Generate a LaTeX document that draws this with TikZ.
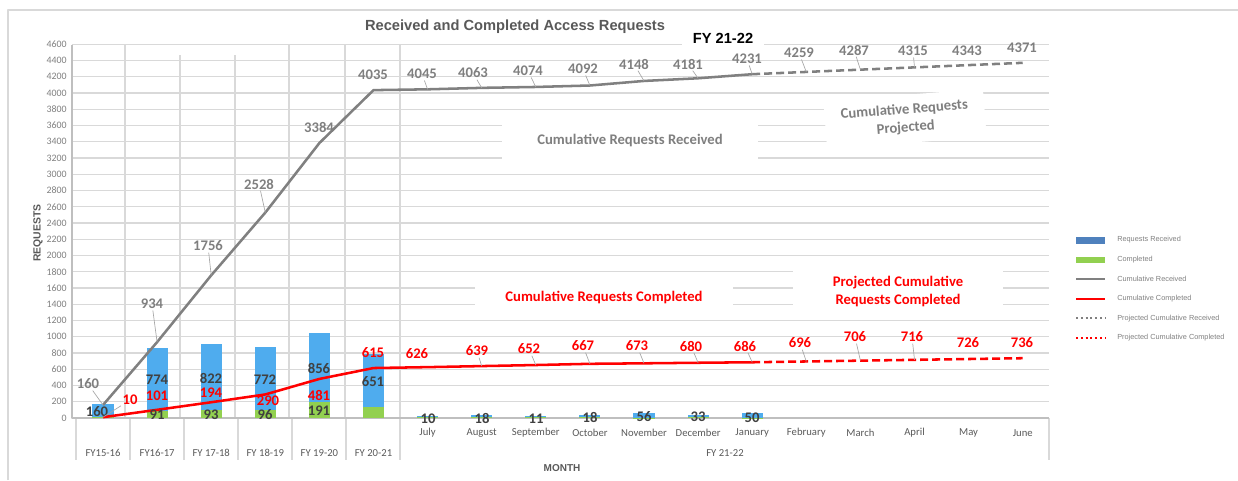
\documentclass[tikz,border=0pt]{standalone}
\usepackage{fontspec}
\setmainfont{Carlito}
\newfontfamily\arialfont{Liberation Sans}
\usepackage{tikz}

\definecolor{barblue}{HTML}{4FACEE}
\definecolor{bargreen}{HTML}{92D050}
\definecolor{legblue}{HTML}{4F81BD}
\definecolor{recvgray}{HTML}{808080}
\definecolor{gridgray}{HTML}{D9D9D9}
\definecolor{axisgray}{HTML}{BFBFBF}
\definecolor{leadgray}{HTML}{A6A6A6}
\definecolor{textgray}{HTML}{595959}
\definecolor{labgray}{HTML}{7F7F7F}
\definecolor{bartext}{HTML}{404040}

\begin{document}
\begin{tikzpicture}[x=0.75pt,y=-0.75pt,line join=round,
        gridline/.style={draw=gridgray,line width=0.8pt},
        ticklabel/.style={font=\fontsize{7.4}{8}\selectfont,text=labgray,anchor=east,inner sep=0pt},
        catlabel/.style={font=\fontsize{8}{9}\selectfont,text=textgray,inner sep=0pt},
        recvlabel/.style={font=\bfseries\fontsize{11}{12}\selectfont,text=labgray,inner sep=1pt},
        donelabel/.style={font=\bfseries\fontsize{11}{12}\selectfont,text=red,inner sep=1pt},
        barlabel/.style={font=\bfseries\fontsize{11}{12}\selectfont,text=bartext,inner sep=0pt},
        leader/.style={draw=leadgray,line width=0.5pt},
        recvline/.style={draw=recvgray,line width=1.9pt},
        doneline/.style={draw=red,line width=1.9pt},
        projected/.style={dash pattern=on 6pt off 3pt},
        note/.style={font=\bfseries\fontsize{11}{13.5}\selectfont,fill=white,align=center,inner sep=0pt},
        legtext/.style={font=\arialfont\fontsize{5.5}{6}\selectfont,text=labgray,anchor=west,inner sep=0pt}]

    \useasboundingbox (0,0) rectangle (1238,480);
    \draw[gridgray,line width=0.8pt] (8,480) -- (8,10) -- (1238,10);

    \node[font=\arialfont\bfseries\fontsize{11}{13}\selectfont,text=textgray] (title) at (515,27) {Received and Completed Access Requests};

    % value grid
    \foreach \val in {0,200,...,4600}{
        \draw[gridline] (72,{418-0.08125*\val}) -- (1049,{418-0.08125*\val});
        \node[ticklabel] (tick-\val) at (67,{418-0.08125*\val}) {\val};
    }
    \foreach \gx/\gy in {125/45,180/55,235/55,289/45,345/45}
        \draw[gridline] (\gx,\gy) -- (\gx,418);
    \draw[gridline] (400,44) -- (400,460);
    \foreach \gx in {76,130,184,238,292,346,1049}
        \draw[gridline] (\gx,418) -- (\gx,460);
    \draw[axisgray,line width=1.2pt] (72,45) -- (72,418) -- (1049,418);

    \node[font=\arialfont\bfseries\fontsize{11}{13}\selectfont,fill=white,inner xsep=8pt,inner ysep=2pt] (fytop) at (723,38) {FY 21-22};

    % bars and line points, in data units
    \begin{scope}[shift={(103,418)},x=40.575pt,y=0.0609375pt]
        \foreach \gv/\bv [count=\i from 0] in {10/160,91/774,93/822,96/772,191/856,134/651,11/10,13/18,13/11,15/18,6/56,7/33,6/50}{
            \fill[bargreen] (\i-0.195,0) rectangle (\i+0.195,\gv);
            \fill[barblue] (\i-0.195,\gv) rectangle (\i+0.195,\gv+\bv);
        }
        \foreach \val [count=\i from 0] in {160,934,1756,2528,3384,4035,4045,4063,4074,4092,4148,4181,4231,4259,4287,4315,4343,4371}
            \coordinate (rc-\i) at (\i,\val);
        \foreach \val [count=\i from 0] in {10,101,194,290,481,615,626,639,652,667,673,680,686,696,706,716,726,736}
            \coordinate (cc-\i) at (\i,\val);
    \end{scope}

    \draw[recvline] (rc-0) \foreach \i in {1,...,12}{ -- (rc-\i)};
    \draw[recvline,projected] (rc-12) \foreach \i in {13,...,17}{ -- (rc-\i)};
    \draw[doneline] (cc-0) \foreach \i in {1,...,12}{ -- (cc-\i)};
    \draw[doneline,projected] (cc-12) \foreach \i in {13,...,17}{ -- (cc-\i)};

    \node[note,text=labgray,minimum width=192pt,minimum height=33pt] (recvnote) at (630,140) {Cumulative Requests Received};
    \node[note,text=labgray,rotate=4.5,minimum width=120pt,minimum height=36pt] (projnote) at (905,119) {Cumulative Requests\\Projected};
    \node[note,text=red,minimum width=193pt,minimum height=25pt] (donenote) at (604,297) {Cumulative Requests Completed};
    \node[note,text=red,minimum width=157pt,minimum height=38pt] (projdonenote) at (898,291) {Projected Cumulative\\Requests Completed};

    % bar values
    \foreach \lab/\lx/\ly in {160/97/412,774/157/380,822/211/378,772/265/380,856/319/368,651/373/382,
            10/428/419,18/482/418,11/536/419,18/590/417,56/644/417,33/698/417,50/752/418,
            91/157/415,93/211/415,96/265/415,191/319/411}
        \node[barlabel] (bl-\lx-\ly) at (\lx,\ly) {\lab};

    % cumulative values
    \foreach \lab/\lx/\ly/\ld [count=\i from 0] in {160/88/384/1,934/152/304/1,1756/208/246/1,2528/259/184/1,
            3384/319/127/0,4035/373/75/0,4045/422/74/1,4063/473/73/1,4074/528/71/1,4092/583/69/1,
            4148/634/64/1,4181/688/64/1,4231/747/59/1,4259/799/53/1,4287/854/50/1,4315/913/51/1,
            4343/967/51/0,4371/1022/48/0}{
        \node[recvlabel] (rl-\i) at (\lx,\ly) {\lab};
        \ifnum\ld=1 \draw[leader] (rl-\i) -- (rc-\i); \fi
    }
    \foreach \lab/\lx/\ly/\ld [count=\i from 0] in {10/130/400/1,101/157/396/0,194/211/393/0,290/268/401/0,
            481/319/395/0,615/373/353/0,626/417/354/0,639/477/351/1,652/529/349/1,667/583/346/1,
            673/637/346/1,680/691/346/1,686/745/346/1,696/800/343/1,706/855/337/1,716/912/337/1,
            726/968/343/0,736/1022/343/0}{
        \node[donelabel] (cl-\i) at (\lx,\ly) {\lab};
        \ifnum\ld=1 \draw[leader] (cl-\i) -- (cc-\i); \fi
    }

    % category axis
    \foreach \cat [count=\i from 0] in {FY15-16,FY16-17,FY 17-18,FY 18-19,FY 19-20,FY 20-21}
        \node[catlabel] (cat-\i) at ({103+54.1*\i},453) {\cat};
    \foreach \cat [count=\i from 6] in {July,August,September,October,November,December,January,February,March,April,May,June}
        \node[catlabel] (cat-\i) at ({103+54.1*\i},433) {\cat};
    \node[catlabel] (fygroup) at (725,453) {FY 21-22};
    \node[catlabel,font=\arialfont\bfseries\fontsize{7.5}{9}\selectfont] (month) at (562,468) {MONTH};
    \node[catlabel,font=\arialfont\bfseries\fontsize{7.8}{9}\selectfont,rotate=90] (requests) at (38,233) {REQUESTS};

    % legend
    \fill[legblue] (1076,237) rectangle (1105,243.5);
    \fill[bargreen] (1076,256.5) rectangle (1105,263);
    \draw[recvline,line width=1.5pt] (1076,279.2) -- (1105,279.2);
    \draw[doneline,line width=1.5pt] (1076,298.8) -- (1105,298.8);
    \draw[recvline,line width=1.5pt,dash pattern=on 1.5pt off 2.1pt] (1076,318.4) -- (1105,318.4);
    \draw[doneline,line width=1.5pt,dash pattern=on 1.5pt off 2.1pt] (1076,338) -- (1105,338);
    \foreach \lab [count=\i from 0] in {Requests Received,Completed,Cumulative Received,Cumulative Completed,Projected Cumulative Received,Projected Cumulative Completed}
        \node[legtext] (leg-\i) at (1117,{240+19.6*\i}) {\lab};

\end{tikzpicture}
\end{document}
